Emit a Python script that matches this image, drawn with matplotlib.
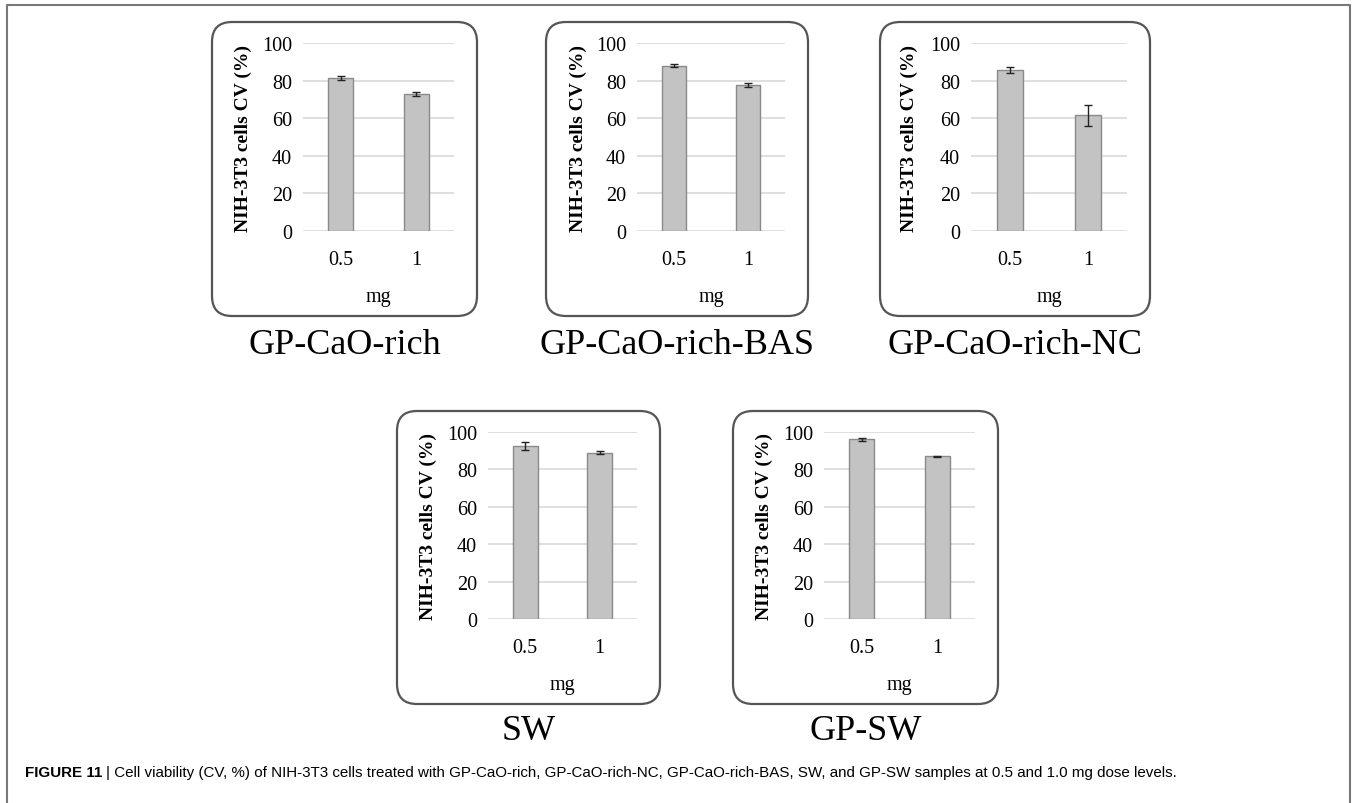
import matplotlib
matplotlib.use('Agg')
import matplotlib.pyplot as plt
from matplotlib.patches import FancyBboxPatch

# data
doses = ['0.5', '1']
samples = ['GP-CaO-rich', 'GP-CaO-rich-BAS', 'GP-CaO-rich-NC', 'SW', 'GP-SW']
cv_caorich = [81.5, 73.0]
cv_caorich_bas = [88.0, 77.5]
cv_caorich_nc = [85.5, 61.5]
cv_sw = [92.5, 89.0]
cv_gpsw = [96.0, 87.0]
err_caorich = [1.0, 1.0]
err_caorich_bas = [0.7, 1.0]
err_caorich_nc = [1.5, 5.5]
err_sw = [2.0, 0.7]
err_gpsw = [0.7, 0.4]
yticks = [0, 20, 40, 60, 80, 100]

means = [cv_caorich, cv_caorich_bas, cv_caorich_nc, cv_sw, cv_gpsw]
errs = [err_caorich, err_caorich_bas, err_caorich_nc, err_sw, err_gpsw]

W, H = 1356, 804
# panel boxes in pixels: left, top, right, bottom
boxes = [(212, 23, 477, 317), (546, 23, 808, 317), (880, 23, 1150, 317),
         (397, 412, 660, 705), (733, 412, 998, 705)]
title_y = [346, 346, 346, 732, 732]

serif = ['Liberation Serif', 'DejaVu Serif']

fig = plt.figure(figsize=(W / 100, H / 100), dpi=100)
bg = fig.add_axes([0, 0, 1, 1])
bg.set_xlim(0, W)
bg.set_ylim(H, 0)
bg.axis('off')
bg.set_zorder(0)

# outer frame (no bottom edge)
bg.plot([7, 7, 1350, 1350], [H, 6, 6, H], color='#777777', lw=1.5)

for i, (l, t, r, b) in enumerate(boxes):
    bg.add_patch(FancyBboxPatch((l, t), r - l, b - t,
                                boxstyle='round,pad=0,rounding_size=20',
                                fc='white', ec='#555555', lw=1.6))
    bg.text((l + r) / 2, title_y[i], samples[i], family=serif, fontsize=26,
            ha='center', va='center')

    ax = fig.add_axes([(l + 91) / W, 1 - (b - 85) / H, (r - l - 114) / W, (b - t - 106) / H])
    ax.set_zorder(1)
    ax.set_facecolor('none')
    x = range(len(doses))
    ax.bar(x, means[i], width=0.33, color='#c3c3c3', edgecolor='#8a8a8a', lw=1.0, zorder=3)
    ax.errorbar(x, means[i], yerr=errs[i], fmt='none', ecolor='#222222',
                elinewidth=1.0, capsize=3, capthick=1.0, zorder=4)
    ax.set_xlim(-0.5, 1.5)
    ax.set_ylim(0, 100)
    ax.set_yticks(yticks)
    ax.set_xticks(list(x))
    ax.set_xticklabels(doses)
    ax.grid(axis='y', color='#d9d9d9', lw=1.2, zorder=0)
    ax.set_axisbelow(True)
    for s in ax.spines.values():
        s.set_visible(False)
    ax.tick_params(length=0, labelsize=14.5, pad=8)
    ax.tick_params(axis='x', pad=14)
    for lab in ax.get_xticklabels() + ax.get_yticklabels():
        lab.set_family(serif)
    ax.set_ylabel('NIH-3T3 cells CV (%)', family=serif, fontweight='bold', fontsize=14)
    ax.yaxis.set_label_coords(-0.34, 0.5)
    ax.set_xlabel('mg', family=serif, fontsize=14.5)
    ax.xaxis.set_label_coords(0.5, -0.30)

# caption
bold = bg.text(25, 773, 'FIGURE 11', family=['Liberation Sans Narrow', 'Liberation Sans'],
               fontweight='bold', fontsize=10.9, va='center')
fig.canvas.draw()
ext = bold.get_window_extent(fig.canvas.get_renderer())
bg.text(ext.x1 + 4, 773, '| Cell viability (CV, %) of NIH-3T3 cells treated with GP-CaO-rich, '
        'GP-CaO-rich-NC, GP-CaO-rich-BAS, SW, and GP-SW samples at 0.5 and 1.0 mg dose levels.',
        family=['Liberation Sans Narrow', 'Liberation Sans'], fontsize=10.9, va='center')

fig.savefig('out.png', dpi=100)
